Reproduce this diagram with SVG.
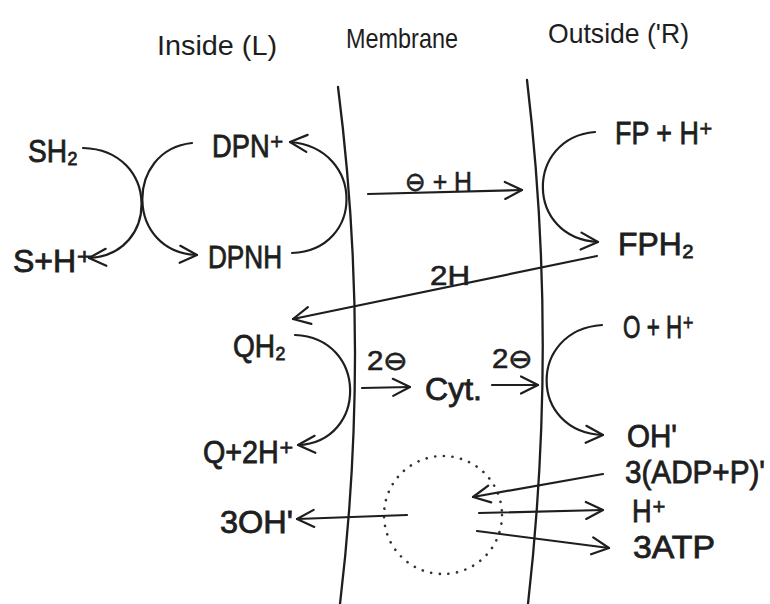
<svg xmlns="http://www.w3.org/2000/svg" width="770" height="604" viewBox="0 0 770 604">
  <defs>
    <marker id="arr" viewBox="-19 -10 21 20" markerWidth="21" markerHeight="20" refX="0" refY="0" orient="auto" markerUnits="userSpaceOnUse">
      <path d="M-17,-8.5 L0,0 L-17,8.5" fill="none" stroke="#1e1e1e" stroke-width="2.2" stroke-linecap="round" stroke-linejoin="round"/>
    </marker>
    <style>
      text { font-family: "Liberation Sans", "DejaVu Sans", sans-serif; fill: #1e1e1e; }
      .hdr { font-size: 28px; }
      .lbl { font-size: 31px; stroke: #1e1e1e; stroke-width: 0.8; }
      .sm { font-size: 27px; stroke: #1e1e1e; stroke-width: 0.6; }
      .mem { fill: none; stroke: #1e1e1e; stroke-width: 2.3; stroke-linecap: round; }
      .ln { fill: none; stroke: #1e1e1e; stroke-width: 2.2; stroke-linecap: round; }
      .arw { marker-end: url(#arr); }
      .dots { fill: none; stroke: #333; stroke-width: 2.6; stroke-linecap: round; stroke-dasharray: 0.1 8.6; }
    </style>
  </defs>

  <rect width="770" height="604" fill="#ffffff"/>

  <!-- column headings -->
  <g id="head-inside"><text class="hdr" x="157" y="55" textLength="120" lengthAdjust="spacingAndGlyphs">Inside (L)</text></g>
  <g id="head-membrane"><text class="hdr" x="346" y="48" textLength="112" lengthAdjust="spacingAndGlyphs">Membrane</text></g>
  <g id="head-outside"><text class="hdr" x="548" y="43" textLength="141" lengthAdjust="spacingAndGlyphs">Outside ('R)</text></g>

  <!-- the two faces of the membrane -->
  <g id="membrane">
    <path class="mem" d="M338,87 Q371,345 340,604"/>
    <path class="mem" d="M527,80 Q558,340 528,604"/>
  </g>

  <!-- ATPase particle -->
  <g id="particle">
    <circle class="dots" cx="443" cy="515" r="59"/>
  </g>

  <!-- inside species -->
  <g id="sh2"><text class="lbl" x="28" y="162" textLength="50" lengthAdjust="spacingAndGlyphs">SH₂</text></g>
  <g id="s-h"><text class="lbl" x="13" y="272" textLength="80" lengthAdjust="spacingAndGlyphs">S+H⁺</text></g>
  <g id="dpn"><text class="lbl" x="212" y="157" textLength="72" lengthAdjust="spacingAndGlyphs">DPN⁺</text></g>
  <g id="dpnh"><text class="lbl" x="208" y="268" textLength="74" lengthAdjust="spacingAndGlyphs">DPNH</text></g>
  <g id="qh2"><text class="lbl" x="233" y="357" textLength="53" lengthAdjust="spacingAndGlyphs">QH₂</text></g>
  <g id="q-2h"><text class="lbl" x="203" y="463" textLength="91" lengthAdjust="spacingAndGlyphs">Q+2H⁺</text></g>
  <g id="oh3"><text class="lbl" x="220" y="533" textLength="73" lengthAdjust="spacingAndGlyphs">3OH'</text></g>

  <!-- outside species -->
  <g id="fp-h"><text class="lbl" x="615" y="144" textLength="98" lengthAdjust="spacingAndGlyphs">FP + H⁺</text></g>
  <g id="fph2"><text class="lbl" x="618" y="255" textLength="76" lengthAdjust="spacingAndGlyphs">FPH₂</text></g>
  <g id="o-h"><text class="lbl" x="623" y="338" textLength="71" lengthAdjust="spacingAndGlyphs">O + H⁺</text></g>
  <g id="oh"><text class="lbl" x="627" y="447" textLength="50" lengthAdjust="spacingAndGlyphs">OH'</text></g>
  <g id="adp-p"><text class="lbl" x="625" y="483" textLength="140" lengthAdjust="spacingAndGlyphs">3(ADP+P)'</text></g>
  <g id="h-out"><text class="lbl" x="632" y="522" textLength="34" lengthAdjust="spacingAndGlyphs">H⁺</text></g>
  <g id="atp"><text class="lbl" x="633" y="558" textLength="82" lengthAdjust="spacingAndGlyphs">3ATP</text></g>

  <!-- membrane carriers -->
  <g id="cyt"><text class="lbl" x="425" y="400" textLength="57" lengthAdjust="spacingAndGlyphs">Cyt.</text></g>

  <!-- connectors -->
  <g id="connectors">
    <path class="ln" d="M83,148 C160,150 160,255 89,258" marker-end="url(#arr)"/>
    <path class="ln" d="M192,143 C125,150 125,252 197,255" marker-end="url(#arr)"/>
    <path class="ln" d="M292,253 C365,250 365,148 290,142" marker-end="url(#arr)"/>
    <path class="ln" d="M595,132 C525,138 525,238 598,242" marker-end="url(#arr)"/>
    <path class="ln" d="M295,335 C368,338 368,442 298,445" marker-end="url(#arr)"/>
    <path class="ln" d="M602,325 C528,330 528,432 603,435" marker-end="url(#arr)"/>

    <path class="ln arw" d="M368,194 L522,190"/>
    <path class="ln arw" d="M597,256 L293,319"/>
    <path class="ln arw" d="M362,388 L410,387"/>
    <path class="ln arw" d="M492,385 L538,385"/>
    <path class="ln arw" d="M603,474 L473,497"/>
    <path class="ln arw" d="M479,513 L603,510"/>
    <path class="ln arw" d="M477,531 L609,548"/>
    <path class="ln arw" d="M407,515 L297,519"/>

    <text class="sm" x="405" y="191" textLength="67" lengthAdjust="spacingAndGlyphs">⊖ + H</text>
    <text class="sm" x="430" y="285" textLength="40" lengthAdjust="spacingAndGlyphs">2H</text>
    <text class="sm" x="367" y="370" textLength="41" lengthAdjust="spacingAndGlyphs">2⊖</text>
    <text class="sm" x="492" y="368" textLength="41" lengthAdjust="spacingAndGlyphs">2⊖</text>
  </g>
</svg>
